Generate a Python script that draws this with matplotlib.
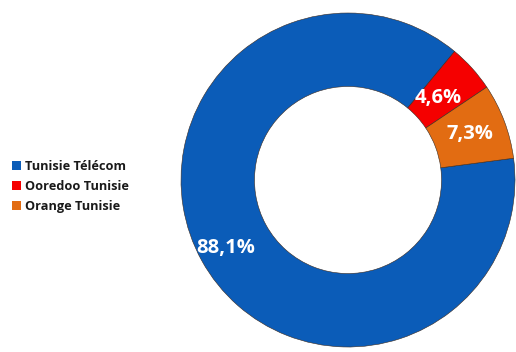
import numpy as np
import matplotlib.pyplot as plt
from matplotlib.patches import Patch

# operator market shares (%)
operators = ["Tunisie Télécom", "Ooredoo Tunisie", "Orange Tunisie"]
shares = [88.1, 4.6, 7.3]
share_labels = ["88,1%", "4,6%", "7,3%"]
colors = ["#0b5cb8", "#f50000", "#e26c12"]
label_radius = [0.84, 0.73, 0.78]  # where each % sits inside the ring

fig = plt.figure(figsize=(5.16, 3.52), dpi=100)
ax = fig.add_axes([0, 0, 1, 1])

wedges, _ = ax.pie(shares, colors=colors, startangle=7.5, counterclock=False,
                   radius=1.0, wedgeprops=dict(width=0.44, edgecolor="#3a2a20", linewidth=0.4))

for w, txt, r in zip(wedges, share_labels, label_radius):
    mid = np.deg2rad((w.theta1 + w.theta2) / 2)
    ax.text(r * np.cos(mid), r * np.sin(mid), txt, ha="center", va="center",
            color="white", fontsize=14.5, fontweight="bold", family="Open Sans")

# pixel-matched view: centre at (348,180), radius 167 px
cx, cy, R = 348, 180, 167
ax.set_xlim(-cx / R, (516 - cx) / R)
ax.set_ylim(-(352 - cy) / R, cy / R)
ax.set_aspect("equal")
ax.axis("off")

handles = [Patch(facecolor=c, edgecolor="none") for c in colors]
fig.legend(handles, operators, loc="center left", bbox_to_anchor=(0.0, 0.47),
           frameon=False, handlelength=0.75, handleheight=0.75, handletextpad=0.3,
           labelspacing=0.55, prop=dict(family="Open Sans", weight="bold", size=9.2),
           labelcolor="#1a1a1a")

fig.savefig("out.png", dpi=100)
